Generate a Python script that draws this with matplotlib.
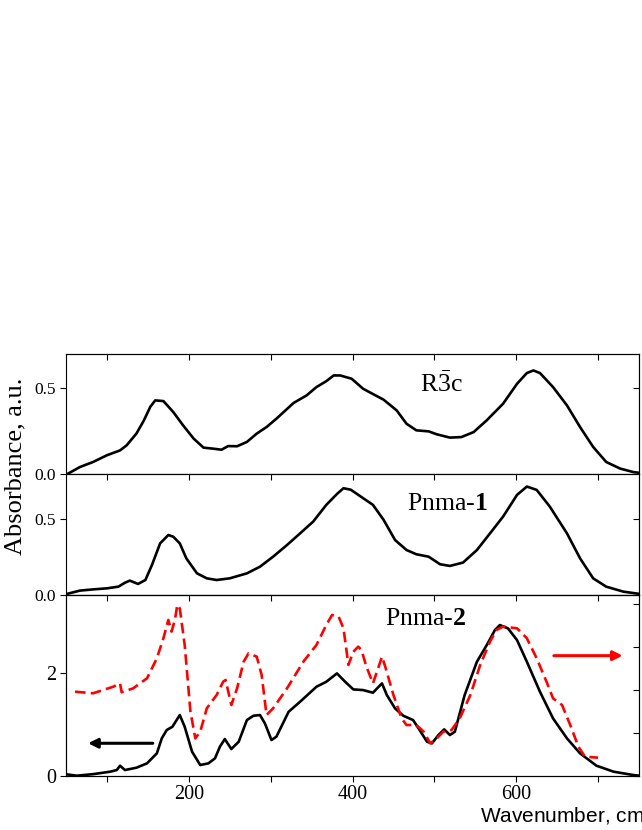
import matplotlib
matplotlib.use("Agg")
import matplotlib.pyplot as plt
from matplotlib.ticker import FixedLocator

plt.rcParams['font.family'] = ['Liberation Serif', 'DejaVu Serif']
plt.rcParams['mathtext.fontset'] = 'custom'
plt.rcParams['mathtext.rm'] = 'Liberation Serif'
plt.rcParams['mathtext.it'] = 'Liberation Serif:italic'
plt.rcParams['mathtext.bf'] = 'Liberation Serif:bold'

# ---------------- data ----------------
wn_r3c = [51, 67, 83, 100, 116, 124, 136, 145, 153, 159, 169, 181, 193, 206, 218, 230, 240, 248,
          259, 271, 283, 295, 307, 328, 344, 356, 368, 377, 385, 399, 413, 438, 454, 466, 478, 493,
          503, 519, 533, 548, 564, 584, 601, 613, 621, 629, 645, 662, 678, 694, 710, 727, 743, 751]
abs_r3c = [0.0, 0.042, 0.071, 0.11, 0.138, 0.167, 0.235, 0.31, 0.39, 0.427, 0.423, 0.36, 0.283,
           0.206, 0.154, 0.148, 0.142, 0.163, 0.162, 0.187, 0.235, 0.273, 0.321, 0.412, 0.456,
           0.504, 0.538, 0.571, 0.571, 0.552, 0.494, 0.431, 0.369, 0.292, 0.254, 0.248, 0.231,
           0.212, 0.215, 0.244, 0.312, 0.408, 0.523, 0.585, 0.60, 0.585, 0.504, 0.398, 0.273,
           0.158, 0.071, 0.033, 0.013, 0.008]

wn_p1 = [51, 67, 83, 100, 114, 122, 128, 138, 147, 155, 165, 175, 181, 189, 197, 210, 222, 234,
         250, 271, 287, 303, 320, 336, 352, 368, 381, 389, 398, 409, 425, 438, 452, 466, 478, 493,
         507, 519, 535, 552, 568, 584, 601, 613, 625, 641, 662, 678, 694, 710, 731, 751]
abs_p1 = [0.007, 0.029, 0.037, 0.044, 0.055, 0.081, 0.095, 0.073, 0.099, 0.198, 0.341, 0.396,
          0.385, 0.341, 0.242, 0.143, 0.110, 0.099, 0.110, 0.143, 0.187, 0.253, 0.330, 0.407,
          0.485, 0.595, 0.667, 0.705, 0.695, 0.654, 0.595, 0.496, 0.363, 0.297, 0.269, 0.253,
          0.203, 0.192, 0.214, 0.297, 0.407, 0.518, 0.661, 0.716, 0.694, 0.584, 0.407, 0.242,
          0.110, 0.055, 0.022, 0.007]

wn_p2 = [51, 63, 83, 104, 112, 116, 122, 136, 149, 161, 167, 173, 180, 189, 195, 204, 214, 224,
         232, 238, 244, 252, 261, 271, 279, 287, 293, 301, 307, 322, 336, 356, 368, 381, 391, 401,
         413, 425, 432, 436, 442, 452, 462, 474, 482, 491, 497, 505, 512, 519, 525, 537, 552, 564,
         574, 580, 590, 601, 613, 629, 645, 662, 678, 698, 719, 743, 751]
abs_p2 = [0.026, 0.0, 0.03, 0.078, 0.11, 0.194, 0.11, 0.155, 0.24, 0.434, 0.725, 0.887, 0.951,
          1.178, 0.951, 0.466, 0.207, 0.24, 0.337, 0.563, 0.712, 0.518, 0.66, 1.081, 1.165,
          1.178, 1.016, 0.693, 0.757, 1.243, 1.437, 1.728, 1.825, 1.987, 1.825, 1.676, 1.663,
          1.612, 1.728, 1.793, 1.566, 1.307, 1.165, 1.081, 0.887, 0.66, 0.628, 0.79, 0.9, 0.79,
          0.854, 1.566, 2.214, 2.537, 2.829, 2.926, 2.861, 2.634, 2.214, 1.631, 1.113, 0.725,
          0.434, 0.194, 0.078, 0.013, 0.0]

wn_red = [61, 83, 108, 116, 118, 132, 149, 161, 169, 175, 179, 183, 186, 189, 195, 202, 208, 214,
          222, 234, 242, 245, 252, 259, 267, 273, 283, 289, 295, 303, 320, 340, 356, 368, 375, 383,
          389, 395, 401, 407, 411, 417, 425, 432, 436, 440, 450, 460, 466, 478, 487, 495, 503, 511,
          521, 531, 544, 556, 568, 576, 584, 601, 613, 625, 637, 645, 656, 666, 676, 684, 700]
abs_red = [1.953, 1.915, 2.07, 2.147, 1.94, 2.03, 2.264, 2.729, 3.194, 3.62, 3.35, 3.62, 3.97,
           3.89, 3.04, 1.49, 0.868, 1.023, 1.566, 1.876, 2.186, 2.225, 1.643, 2.03, 2.65, 2.845,
           2.767, 2.341, 1.411, 1.566, 2.03, 2.65, 3.04, 3.504, 3.736, 3.698, 3.426, 2.574, 2.88,
           3.0, 2.92, 2.535, 2.147, 2.535, 2.767, 2.535, 1.876, 1.333, 1.178, 1.178, 1.023, 0.752,
           0.868, 1.023, 1.062, 1.333, 1.876, 2.574, 3.116, 3.388, 3.465, 3.426, 3.194, 2.729,
           2.186, 1.798, 1.643, 1.178, 0.674, 0.442, 0.419]

panel_labels = [r'$\mathrm{R\bar{3}c}$', r'Pnma-$\mathbf{1}$', r'Pnma-$\mathbf{2}$']
x_major = [200, 400, 600]
x_minor = [100, 300, 500, 700]
# --------------------------------------

W, H = 642, 830
fig = plt.figure(figsize=(W / 100, H / 100), dpi=100)

def rect(x0, y0, x1, y1):
    return [x0 / W, 1 - y1 / H, (x1 - x0) / W, (y1 - y0) / H]

ax1 = fig.add_axes(rect(66, 354, 639, 474.3))
ax2 = fig.add_axes(rect(66, 474.3, 639, 595))
ax3 = fig.add_axes(rect(66, 595, 639, 775.7))

lw = 1.9
ax1.plot(wn_r3c, abs_r3c, color='black', lw=lw, solid_joinstyle='round')
ax2.plot(wn_p1, abs_p1, color='black', lw=lw, solid_joinstyle='round')
ax3.plot(wn_p2, abs_p2, color='black', lw=lw, solid_joinstyle='round')
ax3r = ax3.twinx()
ax3r.plot(wn_red, abs_red, color='#ff0000', lw=lw, dashes=(4, 2))

ax1.set_ylim(0, 0.695)
ax2.set_ylim(0, 0.797)
ax3.set_ylim(0, 3.51)
ax3r.set_ylim(0, 4.2)

for ax in (ax1, ax2, ax3):
    ax.set_xlim(50, 750)
    for s in ax.spines.values():
        s.set_linewidth(0.8)
    ax.xaxis.set_major_locator(FixedLocator(x_major))
    ax.xaxis.set_minor_locator(FixedLocator(x_minor))
    ax.tick_params(axis='both', which='both', direction='out', length=4, width=0.8,
                   top=False, right=False)
    sx = ax.secondary_xaxis('top')
    sx.xaxis.set_major_locator(FixedLocator(x_major + x_minor))
    sx.tick_params(direction='in', length=4, width=0.8, labeltop=False)
    sx.spines['top'].set_linewidth(0.8)

for ax in (ax1, ax2):
    ax.set_yticks([0.0, 0.5])
    ax.set_yticklabels(['0.0', '0.5'])
    ax.tick_params(axis='y', labelsize=12.5, pad=3)
    ax.tick_params(axis='x', labelbottom=False)
    sy = ax.secondary_yaxis('right')
    sy.set_yticks([0.0, 0.5])
    sy.tick_params(direction='in', length=4, width=0.8, labelright=False)
    sy.spines['right'].set_linewidth(0.8)

ax3.set_yticks([0, 2])
ax3.set_yticklabels(['0', '2'])
ax3.tick_params(axis='y', labelsize=14.5, pad=3)
ax3.tick_params(axis='x', labelsize=14.5, pad=3)
ax3r.set_yticks([0, 1, 2, 3, 4])
ax3r.tick_params(direction='in', length=4, width=0.8, labelright=False)
for s in ax3r.spines.values():
    s.set_linewidth(0.8)

# arrows
ax3.annotate('', xy=(77, 0.63), xytext=(156, 0.63),
             arrowprops=dict(arrowstyle='-|>', color='black', lw=2.2, mutation_scale=14,
                             shrinkA=0, shrinkB=0))
ax3r.annotate('', xy=(730, 2.79), xytext=(646, 2.79),
              arrowprops=dict(arrowstyle='-|>', color='#ff0000', lw=2.2, mutation_scale=14,
                              shrinkA=0, shrinkB=0))

# panel labels
fig.text(441 / W, 1 - 384 / H, panel_labels[0], fontsize=18.5, ha='center', va='center')
fig.text(447 / W, 1 - 504 / H, panel_labels[1], fontsize=18.5, ha='center', va='center')
fig.text(426 / W, 1 - 619 / H, panel_labels[2], fontsize=18.5, ha='center', va='center')

fig.text(15 / W, 1 - 466 / H, 'Absorbance, a.u.', rotation=90, fontsize=19,
         ha='center', va='center')
fig.text(480 / W, 1 - 815 / H, r'Wavenumber, cm$^{-1}$', fontsize=15, ha='left',
         va='center', family=['Liberation Sans', 'DejaVu Sans'])

fig.savefig('out.png', dpi=100)
